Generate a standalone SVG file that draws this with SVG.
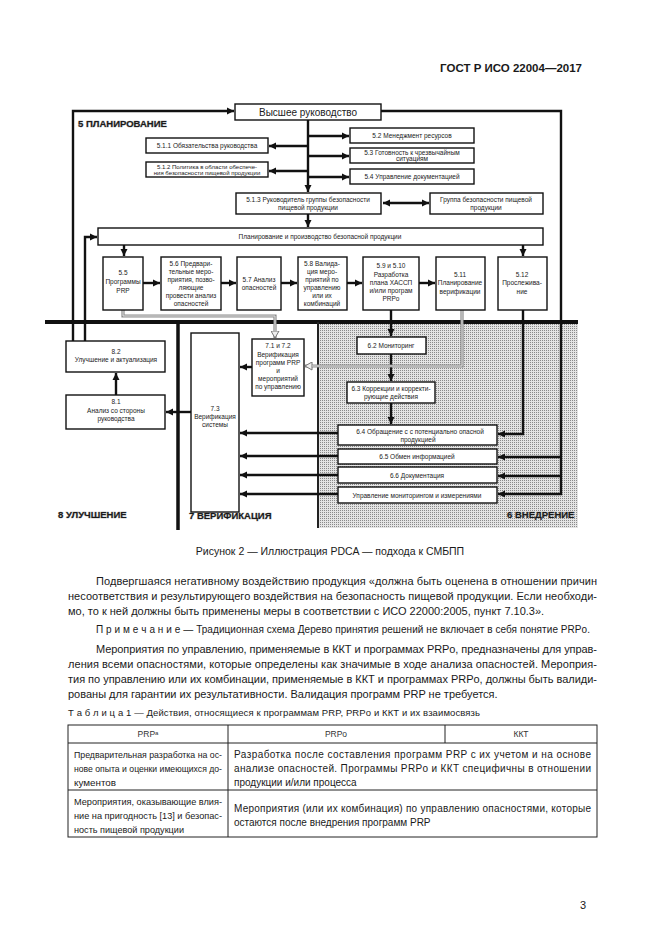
<svg xmlns="http://www.w3.org/2000/svg" width="661" height="935" viewBox="0 0 661 935">
<style>
text{font-family:"Liberation Sans",Arial,sans-serif;fill:#1a1a1a}
.b{fill:#fff;stroke:#111;stroke-width:1.4}
.t{font-size:6.5px;text-anchor:middle}
.c{fill:none;stroke:#111;stroke-width:2.4}
.sec{font-size:9.5px;font-weight:bold;stroke:#9a9a9a;stroke-width:0.6;paint-order:stroke}
.body{font-size:11px}
.tb{font-size:9.6px}
.tc{font-size:10px}
.th{font-size:8.5px;text-anchor:middle;fill:#333}
.g1{fill:none;stroke:#8c8c8c;stroke-width:3.2}
.g2{fill:none;stroke:#e2e2e2;stroke-width:1}
.tl{fill:none;stroke:#222;stroke-width:1}
</style>
<defs>
<marker id="a" markerUnits="userSpaceOnUse" markerWidth="8" markerHeight="8" refX="7" refY="4" orient="auto-start-reverse"><path d="M0,0.5 L7,4 L0,7.5z" fill="#111"/></marker>
<marker id="ga" markerUnits="userSpaceOnUse" markerWidth="9" markerHeight="9" refX="7.5" refY="4.5" orient="auto"><path d="M0.5,0.5 L7.5,4.5 L0.5,8.5z" fill="#eee" stroke="#777" stroke-width="1"/></marker>
<pattern id="st" width="2" height="2" patternUnits="userSpaceOnUse"><rect width="2" height="2" fill="#e4e4e4"/><rect width="1" height="1" fill="#8a8a8a"/></pattern>
</defs>
<rect width="661" height="935" fill="#fff"/>

<!-- page header -->
<text x="582" y="72" style="font-size:11.5px;font-weight:bold;text-anchor:end">ГОСТ Р ИСО 22004—2017</text>

<!-- regions -->
<g id="regions">
<rect x="318" y="324" width="260" height="204" fill="url(#st)"/>
<path d="M45,322 H578" stroke="#111" stroke-width="4"/>
<path d="M178,322 V530" stroke="#111" stroke-width="3.5"/>
<path d="M318,322 V528" stroke="#222" stroke-width="2"/>
<text x="78" y="127" class="sec">5 ПЛАНИРОВАНИЕ</text>
<text x="58" y="518" class="sec">8 УЛУЧШЕНИЕ</text>
<text x="189" y="519" class="sec">7 ВЕРИФИКАЦИЯ</text>
<text x="507" y="518" class="sec">6 ВНЕДРЕНИЕ</text>
</g>

<!-- connectors -->
<g id="connectors">
<path class="c" d="M73,341 V111 H234" marker-end="url(#a)"/>
<path class="c" d="M85,341 V237 H97" marker-end="url(#a)"/>
<path class="c" d="M381,111 H561 V494 H498" marker-end="url(#a)"/>
<path class="c" d="M561,457 H498" marker-end="url(#a)"/>
<path class="c" d="M561,476 H498" marker-end="url(#a)"/>
<path class="c" d="M308,120 V192" marker-end="url(#a)"/>
<path class="c" d="M308,146 H269" marker-end="url(#a)"/>
<path class="c" d="M308,171 H269" marker-end="url(#a)"/>
<path class="c" d="M308,136 H349" marker-end="url(#a)"/>
<path class="c" d="M308,156 H349" marker-end="url(#a)"/>
<path class="c" d="M308,177 H349" marker-end="url(#a)"/>
<path class="c" d="M383,203 H429" marker-start="url(#a)" marker-end="url(#a)"/>
<path class="c" d="M308,214 V227" marker-end="url(#a)"/>
<path class="c" d="M124,245 V256" marker-end="url(#a)"/>
<path class="c" d="M523,245 V256" marker-end="url(#a)"/>
<path class="c" d="M143,283 H160" marker-end="url(#a)"/>
<path class="c" d="M221,283 H236" marker-end="url(#a)"/>
<path class="c" d="M281,283 H297" marker-end="url(#a)"/>
<path class="c" d="M347,283 H362" marker-end="url(#a)"/>
<path class="c" d="M419,283 H435" marker-end="url(#a)"/>
<path class="c" d="M391,310 V336" marker-end="url(#a)"/>
<path class="c" d="M391,354 V381" marker-end="url(#a)"/>
<path class="c" d="M391,403 V424" marker-end="url(#a)"/>
<path class="c" d="M523,310 V434 H498" marker-end="url(#a)"/>
<path class="c" d="M252,367 H240" marker-end="url(#a)"/>
<path class="c" d="M191,412 H166" marker-end="url(#a)"/>
<path class="c" d="M116,395 V373" marker-end="url(#a)"/>
<path class="c" d="M338,433 H240" marker-end="url(#a)"/>
<path class="c" d="M338,456 H240" marker-end="url(#a)"/>
<path class="c" d="M338,475 H240" marker-end="url(#a)"/>
<path class="c" d="M338,494 H240" marker-end="url(#a)"/>
<path class="g1" d="M123,310 V316 H275 V338" marker-end="url(#ga)"/>
<path class="g2" d="M123,310 V316 H275 V331"/>
<path class="g1" d="M462,310 V366 H305" marker-end="url(#ga)"/>
<path class="g2" d="M462,310 V366 H312"/>
</g>

<!-- nodes -->
<g id="n-top"><rect class="b" x="235" y="104" width="146" height="16"/><text x="308" y="116" style="font-size:10px;text-anchor:middle">Высшее руководство</text></g>
<g id="n-511"><rect class="b" x="146" y="138" width="122" height="15"/><text class="t" x="207" y="148">5.1.1 Обязательства руководства</text></g>
<g id="n-512"><rect class="b" x="146" y="162" width="122" height="15"/><text class="t" x="207" y="168.5" style="font-size:6px">5.1.2  Политика в области обеспече-</text><text class="t" x="207" y="175" style="font-size:6px">ния безопасности пищевой продукции</text></g>
<g id="n-52"><rect class="b" x="350" y="128" width="124" height="15"/><text class="t" x="412" y="138">5.2 Менеджмент ресурсов</text></g>
<g id="n-53"><rect class="b" x="350" y="148" width="124" height="15"/><text class="t" x="412" y="154.5">5.3 Готовность к чрезвычайным</text><text class="t" x="412" y="161">ситуациям</text></g>
<g id="n-54"><rect class="b" x="350" y="169" width="124" height="15"/><text class="t" x="412" y="179">5.4 Управление документацией</text></g>
<g id="n-513"><rect class="b" x="236" y="193" width="145" height="21"/><text class="t" x="308" y="202">5.1.3 Руководитель группы безопасности</text><text class="t" x="308" y="210">пищевой продукции</text></g>
<g id="n-grp"><rect class="b" x="430" y="193" width="113" height="21"/><text class="t" x="486" y="202">Группа безопасности пищевой</text><text class="t" x="486" y="210">продукции</text></g>
<g id="n-plan"><rect class="b" x="98" y="228" width="445" height="17"/><text class="t" x="320" y="239">Планирование и производство безопасной продукции</text></g>
<g id="n-55"><rect class="b" x="103" y="257" width="40" height="53"/><text class="t" x="123" y="275">5.5</text><text class="t" x="123" y="284">Программы</text><text class="t" x="123" y="293">PRP</text></g>
<g id="n-56"><rect class="b" x="161" y="257" width="60" height="53"/><text class="t" x="191" y="266">5.6 Предвари-</text><text class="t" x="191" y="274">тельные меро-</text><text class="t" x="191" y="282">приятия, позво-</text><text class="t" x="191" y="290">ляющие</text><text class="t" x="191" y="298">провести анализ</text><text class="t" x="191" y="306">опасностей</text></g>
<g id="n-57"><rect class="b" x="237" y="257" width="44" height="53"/><text class="t" x="259" y="282">5.7 Анализ</text><text class="t" x="259" y="290">опасностей</text></g>
<g id="n-58"><rect class="b" x="298" y="257" width="49" height="53"/><text class="t" x="322" y="266">5.8 Валида-</text><text class="t" x="322" y="274">ция меро-</text><text class="t" x="322" y="282">приятий по</text><text class="t" x="322" y="290">управлению</text><text class="t" x="322" y="298">или их</text><text class="t" x="322" y="306">комбинаций</text></g>
<g id="n-59"><rect class="b" x="363" y="257" width="56" height="53"/><text class="t" x="391" y="268">5.9 и 5.10</text><text class="t" x="391" y="277">Разработка</text><text class="t" x="391" y="285">плана ХАССП</text><text class="t" x="391" y="293">и/или програм</text><text class="t" x="391" y="301">PRPo</text></g>
<g id="n-511v"><rect class="b" x="436" y="257" width="49" height="53"/><text class="t" x="460" y="277">5.11</text><text class="t" x="460" y="285">Планирование</text><text class="t" x="460" y="294">верификации</text></g>
<g id="n-512t"><rect class="b" x="498" y="257" width="49" height="53"/><text class="t" x="522" y="277">5.12</text><text class="t" x="522" y="285">Прослежива-</text><text class="t" x="522" y="294">ние</text></g>
<g id="n-82"><rect class="b" x="66" y="341" width="99" height="31"/><text class="t" x="116" y="354">8.2</text><text class="t" x="116" y="362">Улучшение и актуализация</text></g>
<g id="n-81"><rect class="b" x="66" y="395" width="99" height="34"/><text class="t" x="116" y="404">8.1</text><text class="t" x="116" y="413">Анализ со стороны</text><text class="t" x="116" y="421">руководства</text></g>
<g id="n-73"><rect class="b" x="191" y="333" width="48" height="179"/><text class="t" x="215" y="411">7.3</text><text class="t" x="215" y="419">Верификация</text><text class="t" x="215" y="427">системы</text></g>
<g id="n-71"><rect class="b" x="252" y="339" width="52" height="57"/><text class="t" x="278" y="348">7.1 и 7.2</text><text class="t" x="278" y="357">Верификация</text><text class="t" x="278" y="365">программ PRP</text><text class="t" x="278" y="373">и</text><text class="t" x="278" y="381">мероприятий</text><text class="t" x="278" y="389">по управлению</text></g>
<g id="n-62"><rect class="b" x="357" y="337" width="69" height="17"/><text class="t" x="391" y="348">6.2 Мониторинг</text></g>
<g id="n-63"><rect class="b" x="347" y="382" width="88" height="21"/><text class="t" x="391" y="391">6.3 Коррекции и корректи-</text><text class="t" x="391" y="399">рующие действия</text></g>
<g id="n-64"><rect class="b" x="338" y="425" width="159" height="20"/><text class="t" x="420" y="434">6.4 Обращение с с потенциально опасной</text><text class="t" x="418" y="441.5">продукцией</text></g>
<g id="n-65"><rect class="b" x="338" y="449" width="159" height="15"/><text class="t" x="417" y="459">6.5 Обмен информацией</text></g>
<g id="n-66"><rect class="b" x="338" y="467" width="159" height="16"/><text class="t" x="417" y="478">6.6 Документация</text></g>
<g id="n-67"><rect class="b" x="338" y="487" width="159" height="16"/><text class="t" x="417" y="497.5">Управление мониторингом и  измерениями</text></g>

<!-- caption and body -->
<text x="330" y="555" style="font-size:10.5px;text-anchor:middle">Рисунок 2 — Иллюстрация PDCA — подхода к СМБПП</text>
<text class="body" x="96" y="585" textLength="501" lengthAdjust="spacing">Подвергшаяся негативному воздействию продукция «должна быть оценена в отношении причин</text>
<text class="body" x="68" y="600" textLength="529" lengthAdjust="spacing">несоответствия и результирующего воздействия на безопасность пищевой продукции. Если необходи-</text>
<text class="body" x="68" y="615">мо, то к ней должны быть применены меры в соответствии с ИСО 22000:2005, пункт 7.10.3».</text>
<text x="96" y="633" style="font-size:10px" textLength="494" lengthAdjust="spacing">П р и м е ч а н и е — Традиционная схема Дерево принятия решений не включает в себя понятие PRPo.</text>
<text class="body" x="96" y="653" textLength="501" lengthAdjust="spacing">Мероприятия по управлению, применяемые в ККТ и программах PRPo, предназначены для управ-</text>
<text class="body" x="68" y="668" textLength="529" lengthAdjust="spacing">ления всеми опасностями, которые определены как значимые в ходе анализа опасностей. Мероприя-</text>
<text class="body" x="68" y="683" textLength="529" lengthAdjust="spacing">тия по управлению или их комбинации, применяемые в ККТ и программах PRPo, должны быть валиди-</text>
<text class="body" x="68" y="698">рованы для гарантии их результативности. Валидация программ PRP не требуется.</text>
<text x="68" y="716" style="font-size:9.5px" textLength="412" lengthAdjust="spacing">Т а б л и ц а 1 — Действия, относящиеся к программам PRP, PRPo и ККТ и их взаимосвязь</text>

<!-- table -->
<g id="table">
<rect class="tl" x="68" y="725" width="529" height="112"/>
<path class="tl" d="M68,743 H597 M68,790 H597 M228,725 V837 M445,725 V743"/>
<text class="th" x="148" y="737">PRP<tspan dy="-2.5" style="font-size:6px">a</tspan></text>
<text class="th" x="336" y="737">PRPo</text>
<text class="th" x="521" y="737">ККТ</text>
<text class="tb" x="74" y="758" textLength="148" lengthAdjust="spacingAndGlyphs">Предварительная разработка на ос-</text>
<text class="tb" x="74" y="772" textLength="148" lengthAdjust="spacingAndGlyphs">нове опыта и оценки имеющихся до-</text>
<text class="tb" x="74" y="786" textLength="42" lengthAdjust="spacingAndGlyphs">кументов</text>
<text class="tc" x="234" y="758" textLength="357" lengthAdjust="spacing">Разработка после составления программ PRP с их учетом и на основе</text>
<text class="tc" x="234" y="772" textLength="357" lengthAdjust="spacing">анализе опасностей. Программы PRPo и ККТ специфичны в отношении</text>
<text class="tc" x="234" y="786">продукции и/или процесса</text>
<text class="tb" x="74" y="805" textLength="148" lengthAdjust="spacingAndGlyphs">Мероприятия, оказывающие влия-</text>
<text class="tb" x="74" y="819" textLength="148" lengthAdjust="spacingAndGlyphs">ние на пригодность [13] и безопас-</text>
<text class="tb" x="74" y="833" textLength="110" lengthAdjust="spacingAndGlyphs">ность пищевой продукции</text>
<text class="tc" x="234" y="812" textLength="357" lengthAdjust="spacing">Мероприятия (или их комбинация) по управлению опасностями, которые</text>
<text class="tc" x="234" y="826">остаются после внедрения программ PRP</text>
</g>

<text x="580" y="909" style="font-size:11px">3</text>
</svg>
